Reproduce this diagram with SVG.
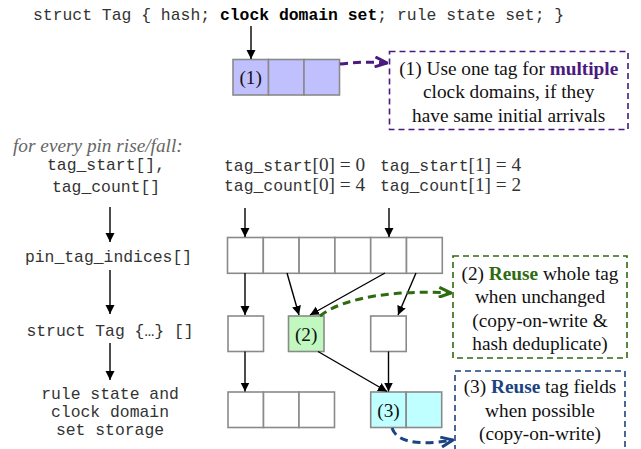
<svg xmlns="http://www.w3.org/2000/svg" width="641" height="449" viewBox="0 0 641 449">
<defs>
<marker id="ah" viewBox="0 0 10 10" refX="10" refY="5" markerWidth="9" markerHeight="14" markerUnits="userSpaceOnUse" orient="auto"><path d="M0,0 L10,5 L0,10 z" fill="#000"/></marker>
<marker id="chP" viewBox="0 0 14 12" refX="13" refY="6" markerWidth="14" markerHeight="12" markerUnits="userSpaceOnUse" orient="auto"><path d="M1,1 L13,6 L1,11" fill="none" stroke="#4b1a7f" stroke-width="3" stroke-dasharray="none"/></marker>
<marker id="chG" viewBox="0 0 14 12" refX="13" refY="6" markerWidth="14" markerHeight="12" markerUnits="userSpaceOnUse" orient="auto"><path d="M1,1 L13,6 L1,11" fill="none" stroke="#2e6a10" stroke-width="3" stroke-dasharray="none"/></marker>
<marker id="chB" viewBox="0 0 14 12" refX="13" refY="6" markerWidth="14" markerHeight="12" markerUnits="userSpaceOnUse" orient="auto"><path d="M1,1 L13,6 L1,11" fill="none" stroke="#1a4380" stroke-width="3" stroke-dasharray="none"/></marker>
</defs>
<style>
.mono{font-family:"Liberation Mono","Courier New",monospace;font-size:16.4px;fill:#333}
.serif{font-family:"Liberation Serif","Times New Roman",serif;font-size:19.3px;fill:#111}
.cell{stroke:#8a8a8a;stroke-width:1.6;fill:#fff}
.blue{fill:#c0c0ff}.green{fill:#c0f8c0}.cyan{fill:#c0ffff}
.arr{stroke:#000;stroke-width:1.4;fill:none;marker-end:url(#ah)}
.dash{fill:none;stroke-width:3;stroke-dasharray:8 5}
.box{fill:#fff;stroke-width:1.6;stroke-dasharray:6 4}
</style>
<rect width="641" height="449" fill="#fff"/>

<g id="header">
<text class="mono" x="33" y="20" xml:space="preserve">struct Tag { hash; <tspan font-weight="bold" fill="#000">clock domain set</tspan>; rule state set; }</text>
</g>

<g id="tag1">
<rect class="cell blue" x="233" y="59.5" width="35.5" height="35.5"/>
<rect class="cell blue" x="268.5" y="59.5" width="35.5" height="35.5"/>
<rect class="cell blue" x="304" y="59.5" width="35.5" height="35.5"/>
<text class="serif" x="250.7" y="84" text-anchor="middle">(1)</text>
</g>

<g id="note1">
<rect class="box" x="389.5" y="51.5" width="238.5" height="78" stroke="#4b1a7f"/>
<text class="serif" x="508.7" text-anchor="middle"><tspan x="508.7" y="75">(1) Use one tag for <tspan font-weight="bold" fill="#4b1a7f">multiple</tspan></tspan><tspan x="508.7" y="98">clock domains, if they</tspan><tspan x="508.7" y="121.5">have same initial arrivals</tspan></text>
</g>

<g id="legend">
<text x="13" y="152" font-family="'Liberation Serif','Times New Roman',serif" font-size="19.3" font-style="italic" fill="#666">for every pin rise/fall:</text>
<text class="mono" x="106" y="170" text-anchor="middle">tag_start[],</text>
<text class="mono" x="106" y="192" text-anchor="middle">tag_count[]</text>
<text class="mono" x="108.5" y="262" text-anchor="middle">pin_tag_indices[]</text>
<text class="mono" x="110" y="336" text-anchor="middle">struct Tag {…} []</text>
<text class="mono" x="110" y="399" text-anchor="middle">rule state and</text>
<text class="mono" x="110" y="417" text-anchor="middle">clock domain</text>
<text class="mono" x="110" y="435" text-anchor="middle">set storage</text>
</g>

<g id="labels">
<text class="mono" x="224" y="171">tag_start<tspan font-family="'Liberation Serif',serif" font-size="19.3">[0] = 0</tspan></text>
<text class="mono" x="224" y="191">tag_count<tspan font-family="'Liberation Serif',serif" font-size="19.3">[0] = 4</tspan></text>
<text class="mono" x="380" y="171">tag_start<tspan font-family="'Liberation Serif',serif" font-size="19.3">[1] = 4</tspan></text>
<text class="mono" x="380" y="191">tag_count<tspan font-family="'Liberation Serif',serif" font-size="19.3">[1] = 2</tspan></text>
</g>

<g id="pin_tag_indices">
<rect class="cell" x="227.5" y="237.5" width="35.8" height="35.8"/>
<rect class="cell" x="263.3" y="237.5" width="35.8" height="35.8"/>
<rect class="cell" x="299.1" y="237.5" width="35.8" height="35.8"/>
<rect class="cell" x="334.9" y="237.5" width="35.8" height="35.8"/>
<rect class="cell" x="370.7" y="237.5" width="35.8" height="35.8"/>
<rect class="cell" x="406.5" y="237.5" width="35.8" height="35.8"/>
</g>

<g id="tags">
<rect class="cell" x="228" y="316" width="35.5" height="35.5"/>
<rect class="cell green" x="288.5" y="316" width="35.5" height="35.5"/>
<text class="serif" x="306.2" y="340.5" text-anchor="middle">(2)</text>
<rect class="cell" x="370.7" y="316" width="35.5" height="35.5"/>
</g>

<g id="storage">
<rect class="cell" x="228" y="392" width="35.5" height="35.5"/>
<rect class="cell" x="263.5" y="392" width="35.5" height="35.5"/>
<rect class="cell" x="299" y="392" width="35.5" height="35.5"/>
<rect class="cell cyan" x="370.7" y="392" width="35.5" height="35.5"/>
<rect class="cell cyan" x="406.2" y="392" width="35.5" height="35.5"/>
<text class="serif" x="388.5" y="416.5" text-anchor="middle">(3)</text>
</g>

<g id="note2">
<rect class="box" x="453" y="256" width="174" height="102" stroke="#2e6a10"/>
<text class="serif" x="540" text-anchor="middle"><tspan x="540" y="279.5">(2) <tspan font-weight="bold" fill="#2e6a10">Reuse</tspan> whole tag</tspan><tspan x="540" y="303">when unchanged</tspan><tspan x="540" y="326.5">(copy-on-write &amp;</tspan><tspan x="540" y="350">hash deduplicate)</tspan></text>
</g>

<g id="note3">
<rect class="box" x="455" y="371" width="170" height="95" stroke="#1a4380"/>
<text class="serif" x="540" text-anchor="middle"><tspan x="540" y="393">(3) <tspan font-weight="bold" fill="#1a4380">Reuse</tspan> tag fields</tspan><tspan x="540" y="416.5">when possible</tspan><tspan x="540" y="440">(copy-on-write)</tspan></text>
</g>

<g id="connectors">
<line class="arr" x1="251" y1="26" x2="251" y2="59"/>
<line class="arr" x1="110" y1="207" x2="110" y2="242"/>
<line class="arr" x1="110" y1="270" x2="110" y2="314"/>
<line class="arr" x1="110" y1="343" x2="110" y2="380"/>
<line class="arr" x1="245" y1="208" x2="245" y2="237"/>
<line class="arr" x1="389" y1="208" x2="389" y2="237"/>
<line class="arr" x1="245" y1="273" x2="245" y2="315"/>
<line class="arr" x1="287" y1="273" x2="299" y2="315"/>
<line class="arr" x1="385" y1="273" x2="310" y2="315"/>
<line class="arr" x1="416" y1="273" x2="398" y2="315"/>
<line class="arr" x1="245" y1="351.5" x2="245" y2="391.5"/>
<line class="arr" x1="388.5" y1="351.5" x2="388.5" y2="391.5"/>
<line class="arr" x1="318" y1="351.5" x2="387" y2="391.5"/>
<path class="dash" d="M340,64 Q364,61 387,63" stroke="#4b1a7f" marker-end="url(#chP)"/>
<path class="dash" d="M320,316 C345,296 400,290 451,293" stroke="#2e6a10" marker-end="url(#chG)"/>
<path class="dash" d="M392,428 C398,446 430,444 453,440" stroke="#1a4380" marker-end="url(#chB)"/>
</g>
</svg>
